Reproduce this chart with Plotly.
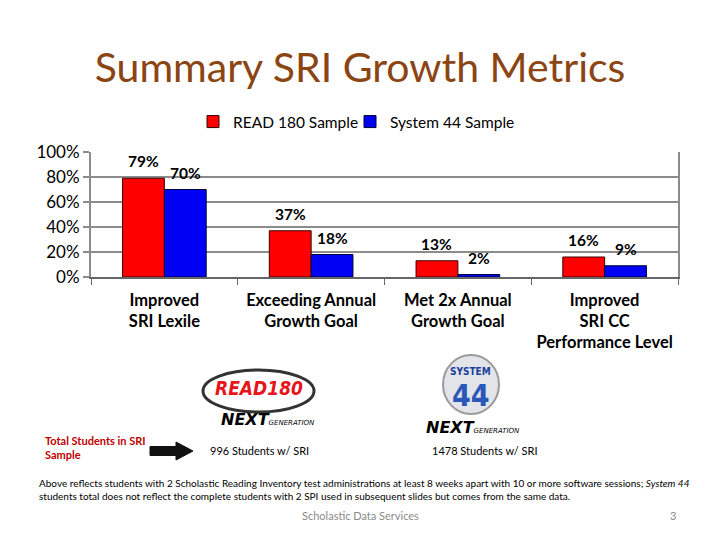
import plotly.graph_objects as go

categories = ["Improved<br>SRI Lexile", "Exceeding Annual<br>Growth Goal",
              "Met 2x Annual<br>Growth Goal", "Improved<br>SRI CC<br>Performance Level"]
read180 = [79, 37, 13, 16]
system44 = [70, 18, 2, 9]
series_names = ["READ 180 Sample", "System 44 Sample"]
y_ticks = [0, 20, 40, 60, 80, 100]
y_tick_labels = ["0%", "20%", "40%", "60%", "80%", "100%"]

PAGE_W, PAGE_H = 720, 540
OFF = 8  # browser body margin
W, H = PAGE_W - OFF, PAGE_H - OFF
L, R, T, B = 91, 678, 152, 277  # plot area in page pixels
FONT = "Lato"


def px(x):
    return (x - L) / (R - L)


def py(y):
    return (B - y) / (B - T)


fig = go.Figure()
fig.add_trace(go.Bar(
    x=categories, y=read180, name=series_names[0], legend="legend",
    marker=dict(color="#FF0000", line=dict(color="#3a0000", width=1)),
))
fig.add_trace(go.Bar(
    x=categories, y=system44, name=series_names[1], legend="legend2",
    marker=dict(color="#0000F5", line=dict(color="#00003a", width=1)),
))

legend_style = dict(orientation="h", xanchor="left", y=py(122), yanchor="middle",
                    font=dict(family=FONT, size=15.5), itemwidth=30,
                    bgcolor="rgba(0,0,0,0)")

fig.update_layout(
    width=W, height=H,
    margin=dict(l=L - OFF, r=PAGE_W - R, t=T - OFF, b=PAGE_H - B, pad=0, autoexpand=False),
    paper_bgcolor="white", plot_bgcolor="white",
    barmode="group", bargap=0.43, bargroupgap=0,
    font=dict(family=FONT, color="black"),
    showlegend=True,
    legend=dict(x=px(193), **legend_style),
    legend2=dict(x=px(350), **legend_style),
    title=dict(text="Summary SRI Growth Metrics", x=(360 - OFF) / W, xref="container",
               xanchor="center", y=1 - (68 - OFF) / H, yref="container", yanchor="middle",
               font=dict(family=FONT, size=41, color="#8B4513")),
)
fig.update_xaxes(
    tickson="boundaries", ticks="outside", ticklen=6, tickcolor="#666", tickwidth=1,
    showline=True, linecolor="#666", linewidth=1.5, showgrid=False,
    ticklabelstandoff=7,
    tickfont=dict(family=FONT, size=16.5, color="black", weight="bold"),
)
fig.update_yaxes(
    range=[0, 100], tickvals=y_ticks, ticktext=y_tick_labels,
    showgrid=True, gridcolor="#8c8c8c", gridwidth=2,
    showline=True, linecolor="#8c8c8c", linewidth=2, mirror=True,
    ticks="outside", ticklen=6, tickcolor="#8c8c8c", tickwidth=2,
    tickfont=dict(family=FONT, size=17, color="black"),
    zeroline=False,
)

ann = []
# value labels above bars
bar_px = 42
for vals, shift in ((read180, -bar_px / 2), (system44, bar_px / 2)):
    for c, v in zip(categories, vals):
        ann.append(dict(text=f"<b>{v}%</b>", x=c, y=v, xref="x", yref="y",
                        xanchor="center", yanchor="middle", showarrow=False,
                        xshift=shift, yshift=17,
                        font=dict(family=FONT, size=15.5, color="black")))
# left red label
ann.append(dict(text="<b>Total Students in SRI<br>Sample</b>", x=px(43), y=py(447), xref="paper",
                yref="paper", xanchor="left", yanchor="middle", showarrow=False, align="left",
                font=dict(family=FONT, size=11, color="#C00000")))
ann.append(dict(text="996 Students w/ SRI", x=px(208), y=py(450), xref="paper", yref="paper",
                xanchor="left", yanchor="middle", showarrow=False,
                font=dict(family=FONT, size=11, color="black")))
ann.append(dict(text="1478 Students w/ SRI", x=px(430), y=py(450), xref="paper", yref="paper",
                xanchor="left", yanchor="middle", showarrow=False,
                font=dict(family=FONT, size=11, color="black")))
ann.append(dict(text="Above reflects students with 2 Scholastic Reading Inventory test administrations at least 8 weeks apart with 10 or more software sessions; <i>System 44</i><br>students total does not reflect the complete students with 2 SPI used in subsequent slides but comes from the same data.",
                x=px(37), y=py(490), xref="paper", yref="paper", xanchor="left", yanchor="middle",
                showarrow=False, align="left",
                font=dict(family=FONT, size=10, color="black")))
ann.append(dict(text="Scholastic Data Services", x=px(360), y=py(515), xref="paper", yref="paper",
                xanchor="center", yanchor="middle", showarrow=False,
                font=dict(family=FONT, size=11, color="#8a8a8a")))
ann.append(dict(text="3", x=px(673), y=py(515), xref="paper", yref="paper",
                xanchor="center", yanchor="middle", showarrow=False,
                font=dict(family=FONT, size=11, color="#8a8a8a")))
# READ 180 logo text
ann.append(dict(text="<b><i>READ180</i></b>", x=px(259), y=py(388), xref="paper", yref="paper",
                xanchor="center", yanchor="middle", showarrow=False,
                font=dict(family="DejaVu Sans Condensed", size=19, color="#E8141B")))
ann.append(dict(text="<b><i>NEXT</i></b><i><span style='font-size:7px'>GENERATION</span></i>",
                x=px(268), y=py(419), xref="paper", yref="paper",
                xanchor="center", yanchor="middle", showarrow=False,
                font=dict(family="DejaVu Sans", size=16, color="black")))
# System 44 logo text
ann.append(dict(text="<b>SYSTEM</b>", x=px(471), y=py(371), xref="paper", yref="paper",
                xanchor="center", yanchor="middle", showarrow=False,
                font=dict(family="DejaVu Sans Condensed", size=10, color="#1a3f9a")))
ann.append(dict(text="<b>44</b>", x=px(471), y=py(395), xref="paper", yref="paper",
                xanchor="center", yanchor="middle", showarrow=False,
                font=dict(family="DejaVu Sans Condensed", size=30, color="#2a58b8")))
ann.append(dict(text="<b><i>NEXT</i></b><i><span style='font-size:7px'>GENERATION</span></i>",
                x=px(473), y=py(427), xref="paper", yref="paper",
                xanchor="center", yanchor="middle", showarrow=False,
                font=dict(family="DejaVu Sans", size=16, color="black")))
fig.update_layout(annotations=ann)

shapes = []
# block arrow
ax = [150, 176, 176, 193, 176, 176, 150]
ay = [446.5, 446.5, 442, 451, 460, 455.5, 455.5]
path = "M " + " L ".join(f"{px(a)},{py(b)}" for a, b in zip(ax, ay)) + " Z"
shapes.append(dict(type="path", path=path, xref="paper", yref="paper",
                   fillcolor="#111", line=dict(color="#111", width=1)))
# READ 180 swoosh ellipse
shapes.append(dict(type="circle", xref="paper", yref="paper",
                   x0=px(203), x1=px(314), y0=py(412), y1=py(370),
                   line=dict(color="#333", width=3), fillcolor="rgba(0,0,0,0)"))
# System 44 disc
shapes.append(dict(type="circle", xref="paper", yref="paper",
                   x0=px(443), x1=px(499), y0=py(414), y1=py(355),
                   line=dict(color="#9a9a9a", width=2), fillcolor="#e2e4ea"))
fig.update_layout(shapes=shapes)

fig.write_html("out.html")
